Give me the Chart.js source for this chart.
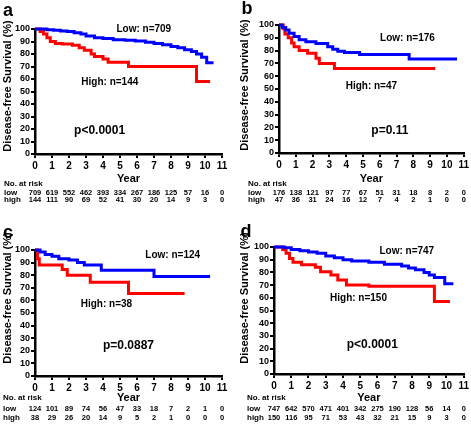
<!DOCTYPE html>
<html><head><meta charset="utf-8">
<script src="https://cdn.jsdelivr.net/npm/chart.js@4.4.0/dist/chart.umd.min.js"></script>
<style>
html,body{margin:0;padding:0;background:#fff;}
#wrap{position:relative;width:471px;height:425px;overflow:hidden;background:#fff;}
canvas{position:absolute;}
</style></head><body>
<div id="wrap">
<canvas id="ca" width="235" height="212" style="left:0;top:0"></canvas>
<canvas id="cb" width="236" height="212" style="left:235px;top:0"></canvas>
<canvas id="cc" width="235" height="213" style="left:0;top:212px"></canvas>
<canvas id="cd" width="236" height="213" style="left:235px;top:212px"></canvas>
</div>
<script>
// ---------- DATA ----------
const yearTicks = [0,1,2,3,4,5,6,7,8,9,10,11];
const survTicks = [0,10,20,30,40,50,60,70,80,90,100];

// Panel a
const aLowT  = [0,0.7,1.1,1.5,1.9,2.3,2.7,3.0,3.5,4.0,4.6,5.3,5.9,6.5,7.0,7.5,8.0,8.4,8.8,9.2,9.5,9.8,10.1,10.5];
const aLowS  = [100,99.5,99,98.5,98,97,96,94.5,93,92.5,91.5,91,90.5,89.5,88.5,87.5,86,85,83.5,82,80,77.5,73,73];
const aHighT = [0,0.3,0.5,0.7,0.9,1.2,1.6,2.2,2.6,2.9,3.3,3.5,4.0,4.3,5.5,9.5,10.3];
const aHighS = [100,98,96,93,90,88.5,88,87,85,83,80,78,76,73.5,70,58,58];
const aRiskLow  = [709,619,552,462,393,334,267,186,125,57,16,0];
const aRiskHigh = [144,111,90,69,52,41,30,20,14,9,3,0];

// Panel b
const bLowT  = [0,0.2,0.4,0.6,0.9,1.2,1.6,2.2,2.9,3.2,3.5,3.9,4.8,7.75,10.6];
const bLowS  = [100,98,96,93.5,91,88.5,87,85.5,83,81,79.5,78.5,77,73.5,73.5];
const bHighT = [0,0.25,0.35,0.55,0.75,0.9,1.2,1.7,2.2,2.4,3.3,9.3];
const bHighS = [100,97,93,90,86,83,80,78,74,70,66,66];
const bRiskLow  = [176,138,121,97,77,67,51,31,18,8,2,0];
const bRiskHigh = [47,36,31,24,16,12,7,4,2,1,0,0];

// Panel c
const cLowT  = [0,0.3,0.6,1.0,1.4,2.0,2.5,2.9,3.9,7.0,10.3];
const cLowS  = [100,98.5,96.5,95,93,92,90,88,84,79,79];
const cHighT = [0,0.15,0.25,1.6,1.9,3.25,5.5,8.8];
const cHighS = [100,93,88,84.5,80,74.5,65.5,65.5];
const cRiskLow  = [124,101,89,74,56,47,33,18,7,2,1,0];
const cRiskHigh = [38,29,26,20,14,9,5,2,1,0,0,0];

// Panel d
const dLowT  = [0,0.6,1.0,1.5,2.0,2.5,3.0,3.5,4.0,4.5,5.5,6.4,7.4,7.8,8.2,8.7,9.0,9.3,9.9,10.4];
const dLowS  = [100,99.5,98,97,96,95,93,91.5,90,89,88,86.5,85,83.5,82,80,78,76,71,71];
const dHighT = [0,0.5,0.7,0.9,1.1,1.6,2.4,2.7,3.3,3.7,4.2,5.5,9.3,10.2];
const dHighS = [100,98,95,91,88,86,84,80.5,78,74,70,69,57,57];
const dRiskLow  = [747,642,570,471,401,342,275,190,128,56,14,0];
const dRiskHigh = [150,116,95,71,53,43,32,21,15,9,3,0];

// ---------- RENDER ----------
const FF = "'Liberation Sans', Arial, Helvetica, sans-serif";
const BLUE = '#0000ff', RED = '#ff0000';

function pts(T, S){ return T.map((t,i)=>({x:t, y:S[i]})); }

function textPlugin(cfg){
  return {
    id: 'panelText',
    afterDraw(chart){
      const ctx = chart.ctx, xs = chart.scales.x, ys = chart.scales.y, ca = chart.chartArea;
      ctx.save();
      ctx.fillStyle = '#000';
      ctx.textBaseline = 'middle';
      ctx.textAlign = 'center';
      ctx.font = 'bold 18px ' + FF;
      ctx.fillText(cfg.letter, cfg.letterPos[0], cfg.letterPos[1]);
      ctx.save();
      ctx.translate(cfg.yTitlePos[0], cfg.yTitlePos[1]);
      ctx.rotate(-Math.PI/2);
      ctx.font = 'bold 11px ' + FF;
      ctx.fillText('Disease-free Survival (%)', 0, 0);
      ctx.restore();
      ctx.font = 'bold 11px ' + FF;
      ctx.fillText('Year', (ca.left+ca.right)/2, ca.bottom + cfg.yearDy);
      ctx.font = 'bold 10px ' + FF;
      ctx.fillText(cfg.lowText, xs.getPixelForValue(cfg.lowAt[0]), ys.getPixelForValue(cfg.lowAt[1]));
      ctx.fillText(cfg.highText, xs.getPixelForValue(cfg.highAt[0]), ys.getPixelForValue(cfg.highAt[1]));
      ctx.font = 'bold 12px ' + FF;
      ctx.fillText(cfg.pText, xs.getPixelForValue(cfg.pAt[0]), ys.getPixelForValue(cfg.pAt[1]));
      ctx.textAlign = 'left';
      ctx.font = 'bold 8px ' + FF;
      ctx.fillText('No. at risk', cfg.tableX, ca.bottom + cfg.tableDy[0]);
      ctx.fillText('low', cfg.tableX, ca.bottom + cfg.tableDy[1]);
      ctx.fillText('high', cfg.tableX, ca.bottom + cfg.tableDy[2]);
      ctx.textAlign = 'center';
      ctx.font = 'bold 7.5px ' + FF;
      cfg.riskLow.forEach((n,i)=>ctx.fillText(String(n), xs.getPixelForValue(yearTicks[i]), ca.bottom + cfg.tableDy[1]));
      cfg.riskHigh.forEach((n,i)=>ctx.fillText(String(n), xs.getPixelForValue(yearTicks[i]), ca.bottom + cfg.tableDy[2]));
      ctx.restore();
    }
  };
}

function makeChart(id, W, H, area, lowT, lowS, highT, highS, cfg){
  const xAxisH = 20;
  new Chart(document.getElementById(id), {
    type: 'line',
    data: {
      datasets: [
        {label:'Low', data: pts(lowT, lowS), borderColor: BLUE, borderWidth: 3, stepped: true, pointRadius: 0, fill: false, clip: false},
        {label:'High', data: pts(highT, highS), borderColor: RED, borderWidth: 3, stepped: true, pointRadius: 0, fill: false, clip: false}
      ]
    },
    options: {
      responsive: false, animation: false, devicePixelRatio: 1,
      layout: {padding: {left: 0, top: area.top, right: W - area.right, bottom: H - area.bottom - xAxisH}},
      plugins: {legend: {display: false}, tooltip: {enabled: false}},
      scales: {
        x: {
          type: 'linear', min: 0, max: 11,
          afterBuildTicks: s => { s.ticks = yearTicks.map(v=>({value:v})); },
          afterFit: s => { s.height = xAxisH; },
          ticks: {color:'#000', font:{family: FF, size: 10, weight:'bold'}, padding: 2, maxRotation: 0, autoSkip: false},
          grid: {display: true, drawOnChartArea: false, drawTicks: true, tickLength: 4, color:'#000', lineWidth: 2},
          border: {display: true, color:'#000', width: 2.5}
        },
        y: {
          type: 'linear', min: 0, max: 100,
          afterBuildTicks: s => { s.ticks = survTicks.map(v=>({value:v})); },
          afterFit: s => { s.width = area.left; },
          ticks: {color:'#000', font:{family: FF, size: 9, weight:'bold'}, padding: 1, autoSkip: false},
          grid: {display: true, drawOnChartArea: false, drawTicks: true, tickLength: 4, color:'#000', lineWidth: 2},
          border: {display: true, color:'#000', width: 2.5}
        }
      }
    },
    plugins: [textPlugin(cfg)]
  });
}

makeChart('ca', 235, 212, {left:35, right:222, top:29, bottom:154}, aLowT, aLowS, aHighT, aHighS, {
  letter:'a', letterPos:[8,11], yTitlePos:[8,86], yearDy:25,
  lowText:'Low: n=709', lowAt:[6.4,100], highText:'High: n=144', highAt:[4.4,57.6], pText:'p<0.0001', pAt:[3.8,18.8],
  tableX:4, tableDy:[30,39,46], riskLow:aRiskLow, riskHigh:aRiskHigh
});
makeChart('cb', 236, 212, {left:44, right:230, top:25, bottom:153}, bLowT, bLowS, bHighT, bHighS, {
  letter:'b', letterPos:[12,9], yTitlePos:[10,85], yearDy:26,
  lowText:'Low: n=176', lowAt:[7.65,89.4], highText:'High: n=47', highAt:[5.5,52], pText:'p=0.11', pAt:[6.6,17.6],
  tableX:13, tableDy:[31,40,47], riskLow:bRiskLow, riskHigh:bRiskHigh
});
makeChart('cc', 235, 213, {left:35, right:222, top:38, bottom:164}, cLowT, cLowS, cHighT, cHighS, {
  letter:'c', letterPos:[8,21], yTitlePos:[8,86], yearDy:22,
  lowText:'Low: n=124', lowAt:[8.1,95.5], highText:'High: n=38', highAt:[4.2,57.3], pText:'p=0.0887', pAt:[5.5,24.3],
  tableX:3, tableDy:[22,33,42], riskLow:cRiskLow, riskHigh:cRiskHigh
});
makeChart('cd', 236, 213, {left:39, right:229, top:35, bottom:162}, dLowT, dLowS, dHighT, dHighS, {
  letter:'d', letterPos:[11,20], yTitlePos:[10,86], yearDy:24,
  lowText:'Low: n=747', lowAt:[7.7,97], highText:'High: n=150', highAt:[4.9,60], pText:'p<0.0001', pAt:[5.7,23],
  tableX:12, tableDy:[24,35,44], riskLow:dRiskLow, riskHigh:dRiskHigh
});
</script>
</body></html>
